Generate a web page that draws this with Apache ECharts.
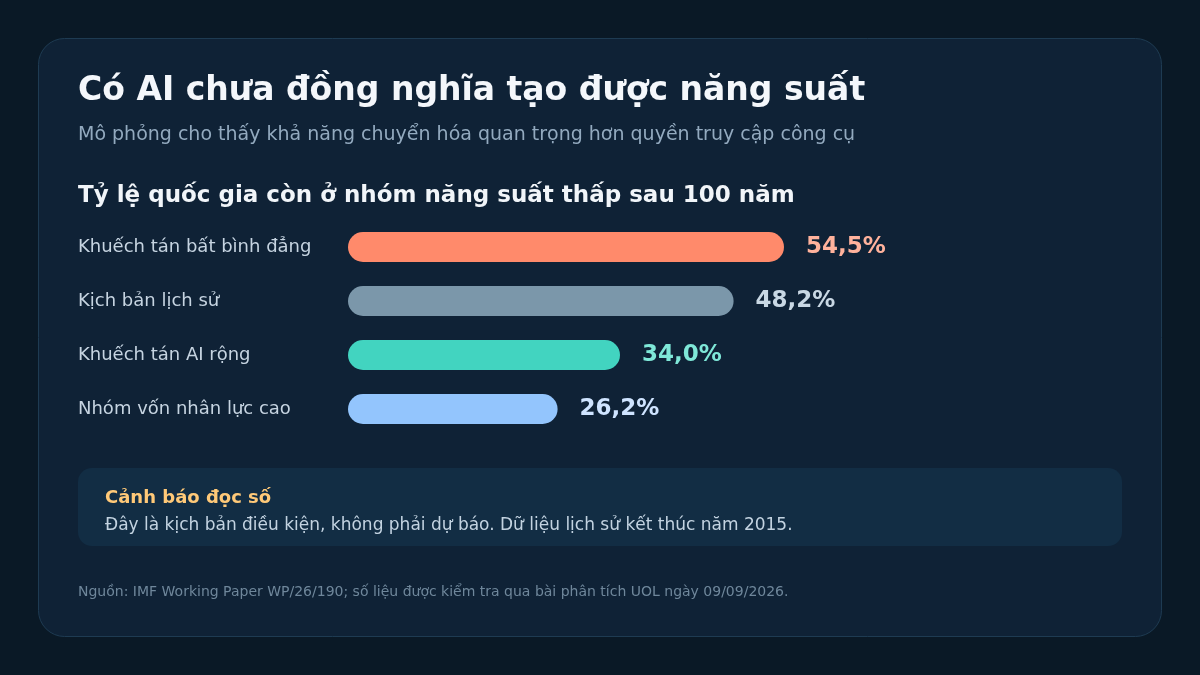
<!DOCTYPE html>
<html><head><meta charset="utf-8">
<script src="https://cdn.jsdelivr.net/npm/echarts@6/dist/echarts.min.js"></script>
<style>html,body{margin:0;padding:0;background:#0a1926;}#c{width:1200px;height:675px;}</style>
</head><body><div id="c"></div>
<script>
const categories = ['Khuếch tán bất bình đẳng', 'Kịch bản lịch sử', 'Khuếch tán AI rộng', 'Nhóm vốn nhân lực cao'];
const values = [54.5, 48.2, 34.0, 26.2];
const barColors = ['#ff8a6b', '#7b97aa', '#42d4c0', '#93c5fd'];
const labelColors = ['#ffb29c', '#c9d8e4', '#7fe8d8', '#cfe4ff'];
const titleText = 'Có AI chưa đồng nghĩa tạo được năng suất';
const subtitleText = 'Mô phỏng cho thấy khả năng chuyển hóa quan trọng hơn quyền truy cập công cụ';
const sectionText = 'Tỷ lệ quốc gia còn ở nhóm năng suất thấp sau 100 năm';
const noteTitle = 'Cảnh báo đọc số';
const noteBody = 'Đây là kịch bản điều kiện, không phải dự báo. Dữ liệu lịch sử kết thúc năm 2015.';
const sourceText = 'Nguồn: IMF Working Paper WP/26/190; số liệu được kiểm tra qua bài phân tích UOL ngày 09/09/2026.';

const FONT = 'DejaVu Sans';
const chart = echarts.init(document.getElementById('c'), null, {renderer: 'canvas'});
chart.setOption({
  backgroundColor: '#0a1926',
  animation: false,
  textStyle: {fontFamily: FONT},
  grid: {left: 348, top: 220, width: 800, height: 216, containLabel: false},
  xAxis: {type: 'value', min: 0, max: 100, show: false},
  yAxis: {
    type: 'category', data: categories, inverse: true,
    axisLine: {show: false}, axisTick: {show: false}, splitLine: {show: false},
    axisLabel: {align: 'left', margin: 270, color: '#c6d4e1', fontSize: 18, fontFamily: FONT, padding: [6, 0, 0, 0]}
  },
  graphic: [
    {type: 'rect', z: -10, shape: {x: 38.5, y: 38.5, width: 1123, height: 598, r: 26},
     style: {fill: '#0f2236', stroke: '#1e3b52', lineWidth: 1}},
    {type: 'rect', z: -9, shape: {x: 78, y: 468, width: 1044, height: 78, r: 14},
     style: {fill: '#122d44'}},
    {type: 'text', x: 78, y: 91, style: {text: titleText, fill: '#f4f7fb', font: 'bold 33px "DejaVu Sans"', textVerticalAlign: 'middle'}},
    {type: 'text', x: 78, y: 135, style: {text: subtitleText, fill: '#93aabf', font: '19px "DejaVu Sans"', textVerticalAlign: 'middle'}},
    {type: 'text', x: 78, y: 196, style: {text: sectionText, fill: '#f1f5f9', font: 'bold 23px "DejaVu Sans"', textVerticalAlign: 'middle'}},
    {type: 'text', x: 105, y: 498, style: {text: noteTitle, fill: '#ffc978', font: 'bold 18px "DejaVu Sans"', textVerticalAlign: 'middle'}},
    {type: 'text', x: 105, y: 526, style: {text: noteBody, fill: '#c3d3e1', font: '17px "DejaVu Sans"', textVerticalAlign: 'middle'}},
    {type: 'text', x: 78, y: 592, style: {text: sourceText, fill: '#6f879b', font: '14px "DejaVu Sans"', textVerticalAlign: 'middle'}}
  ],
  series: [{
    type: 'bar',
    barWidth: 30,
    data: values.map((v, i) => ({
      value: v,
      itemStyle: {color: barColors[i], borderRadius: 15},
      label: {color: labelColors[i]}
    })),
    label: {
      show: true, position: 'right', distance: 22,
      fontSize: 23, fontWeight: 'bold', fontFamily: FONT, padding: [6, 0, 0, 0],
      formatter: p => p.value.toFixed(1).replace('.', ',') + '%'
    }
  }]
});
</script></body></html>
